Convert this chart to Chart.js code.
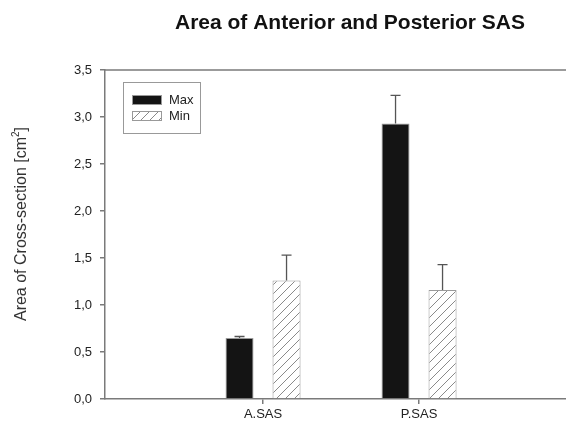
<!DOCTYPE html>
<html>
<head>
<meta charset="UTF-8">
<title>Area of Anterior and Posterior SAS</title>
<script src="https://cdn.jsdelivr.net/npm/chart.js"></script>
<style>
body { margin: 0; background: #fff; }
#c { display: block; }
</style>
</head>
<body>
<canvas id="c" width="566" height="423"></canvas>
<script>
// data
const categories = ['A.SAS', 'P.SAS'];
const catPos = [1, 2];
const maxValues = [0.65, 2.93];
const maxErrors = [0.015, 0.30];
const minValues = [1.26, 1.16];
const minErrors = [0.27, 0.27];
const yTicks = [0, 0.5, 1, 1.5, 2, 2.5, 3, 3.5];

const FONT = '"Liberation Sans", Arial, sans-serif';
const AXIS = '#7a7a7a';

// diagonal hatch for the Min bars
function hatch(col) {
	const s = 9, c = document.createElement('canvas');
	c.width = s; c.height = s;
	const g = c.getContext('2d');
	g.fillStyle = '#fff'; g.fillRect(0, 0, s, s);
	g.strokeStyle = col; g.lineWidth = 1;
	g.beginPath();
	g.moveTo(0, s); g.lineTo(s, 0);
	g.moveTo(-1, 1); g.lineTo(1, -1);
	g.moveTo(s - 1, s + 1); g.lineTo(s + 1, s - 1);
	g.stroke();
	return g.createPattern(c, 'repeat');
}
const hatchFill = hatch('#8a8a8a');

const pts = vals => vals.map((v, i) => ({ x: catPos[i], y: v }));

const extras = {
	id: 'extras',
	afterDatasetsDraw(chart) {
		const { ctx, chartArea: a, scales: { y } } = chart;
		ctx.save();
		// error bars (upper only)
		[maxErrors, minErrors].forEach((errs, di) => {
			const meta = chart.getDatasetMeta(di);
			const vals = chart.data.datasets[di].data;
			meta.data.forEach((bar, i) => {
				const y0 = y.getPixelForValue(vals[i].y);
				const y1 = y.getPixelForValue(vals[i].y + errs[i]);
				ctx.strokeStyle = '#555'; ctx.lineWidth = 1.3;
				ctx.beginPath();
				ctx.moveTo(bar.x, y0); ctx.lineTo(bar.x, y1);
				ctx.moveTo(bar.x - 5, y1); ctx.lineTo(bar.x + 5, y1);
				ctx.stroke();
			});
		});
		// top frame line
		ctx.strokeStyle = AXIS; ctx.lineWidth = 1.5;
		ctx.beginPath(); ctx.moveTo(a.left, a.top); ctx.lineTo(a.right, a.top); ctx.stroke();

		// legend box
		const lx = a.left + 18, ly = a.top + 12;
		ctx.lineWidth = 1; ctx.strokeStyle = '#999';
		ctx.strokeRect(lx + 0.5, ly + 0.5, 77, 51);
		const ds = chart.data.datasets;
		ds.forEach((d, i) => {
			const sy = ly + 13 + i * 16;
			ctx.fillStyle = d.backgroundColor;
			ctx.fillRect(lx + 9, sy, 30, 10);
			ctx.strokeStyle = '#999';
			ctx.strokeRect(lx + 9.5, sy + 0.5, 29, 9);
			ctx.fillStyle = '#222';
			ctx.font = '13px ' + FONT;
			ctx.textBaseline = 'middle'; ctx.textAlign = 'left';
			ctx.fillText(d.label, lx + 46, sy + 5);
		});

		// chart title
		ctx.fillStyle = '#111';
		ctx.font = 'bold 21px ' + FONT;
		ctx.textAlign = 'center'; ctx.textBaseline = 'alphabetic';
		ctx.fillText('Area of Anterior and Posterior SAS', 350, 29);

		// y-axis title, with a small raised "2"
		ctx.save();
		ctx.translate(22, 224);
		ctx.rotate(-Math.PI / 2);
		ctx.fillStyle = '#333';
		ctx.textBaseline = 'middle'; ctx.textAlign = 'left';
		const main = 'Area of Cross-section [cm', sup = '2', end = ']';
		ctx.font = '16px ' + FONT;
		const wMain = ctx.measureText(main).width, wEnd = ctx.measureText(end).width;
		ctx.font = '10px ' + FONT;
		const wSup = ctx.measureText(sup).width;
		let x = -(wMain + wSup + wEnd) / 2;
		ctx.font = '16px ' + FONT;
		ctx.fillText(main, x, 0); x += wMain;
		ctx.font = '10px ' + FONT;
		ctx.fillText(sup, x, -6); x += wSup;
		ctx.font = '16px ' + FONT;
		ctx.fillText(end, x, 0);
		ctx.restore();
		ctx.restore();
	}
};

new Chart(document.getElementById('c'), {
	type: 'bar',
	data: {
		datasets: [
			{ label: 'Max', data: pts(maxValues), backgroundColor: '#141414', borderColor: '#9a9a9a', borderWidth: 1 },
			{ label: 'Min', data: pts(minValues), backgroundColor: hatchFill, borderColor: '#9a9a9a', borderWidth: 1 }
		]
	},
	options: {
		responsive: false,
		animation: false,
		categoryPercentage: 0.6026,
		barPercentage: 0.596,
		layout: { padding: { top: 70, left: 0, right: 0, bottom: 0 } },
		plugins: { legend: { display: false }, title: { display: false }, tooltip: { enabled: false } },
		scales: {
			x: {
				type: 'linear',
				offset: false,
				min: -0.013,
				max: 2.942,
				afterFit: s => { s.height = 24; },
				afterBuildTicks: s => { s.ticks = catPos.map(v => ({ value: v })); },
				ticks: {
					callback: v => categories[catPos.indexOf(v)] || '',
					color: '#222', font: { family: FONT, size: 13 }, padding: 3, maxRotation: 0
				},
				grid: { display: true, offset: false, drawOnChartArea: false, drawTicks: true, tickLength: 5, color: AXIS, lineWidth: 1.5 },
				border: { display: true, color: AXIS, width: 1.5 }
			},
			y: {
				min: 0,
				max: 3.5,
				afterFit: s => { s.width = 105; },
				afterBuildTicks: s => { s.ticks = yTicks.map(v => ({ value: v })); },
				ticks: {
					callback: v => v.toFixed(1).replace('.', ','),
					color: '#222', font: { family: FONT, size: 13 }, padding: 8
				},
				grid: { display: true, drawOnChartArea: false, drawTicks: true, tickLength: 5, color: AXIS, lineWidth: 1.5 },
				border: { display: true, color: AXIS, width: 1.5 }
			}
		}
	},
	plugins: [extras]
});
</script>
</body>
</html>
